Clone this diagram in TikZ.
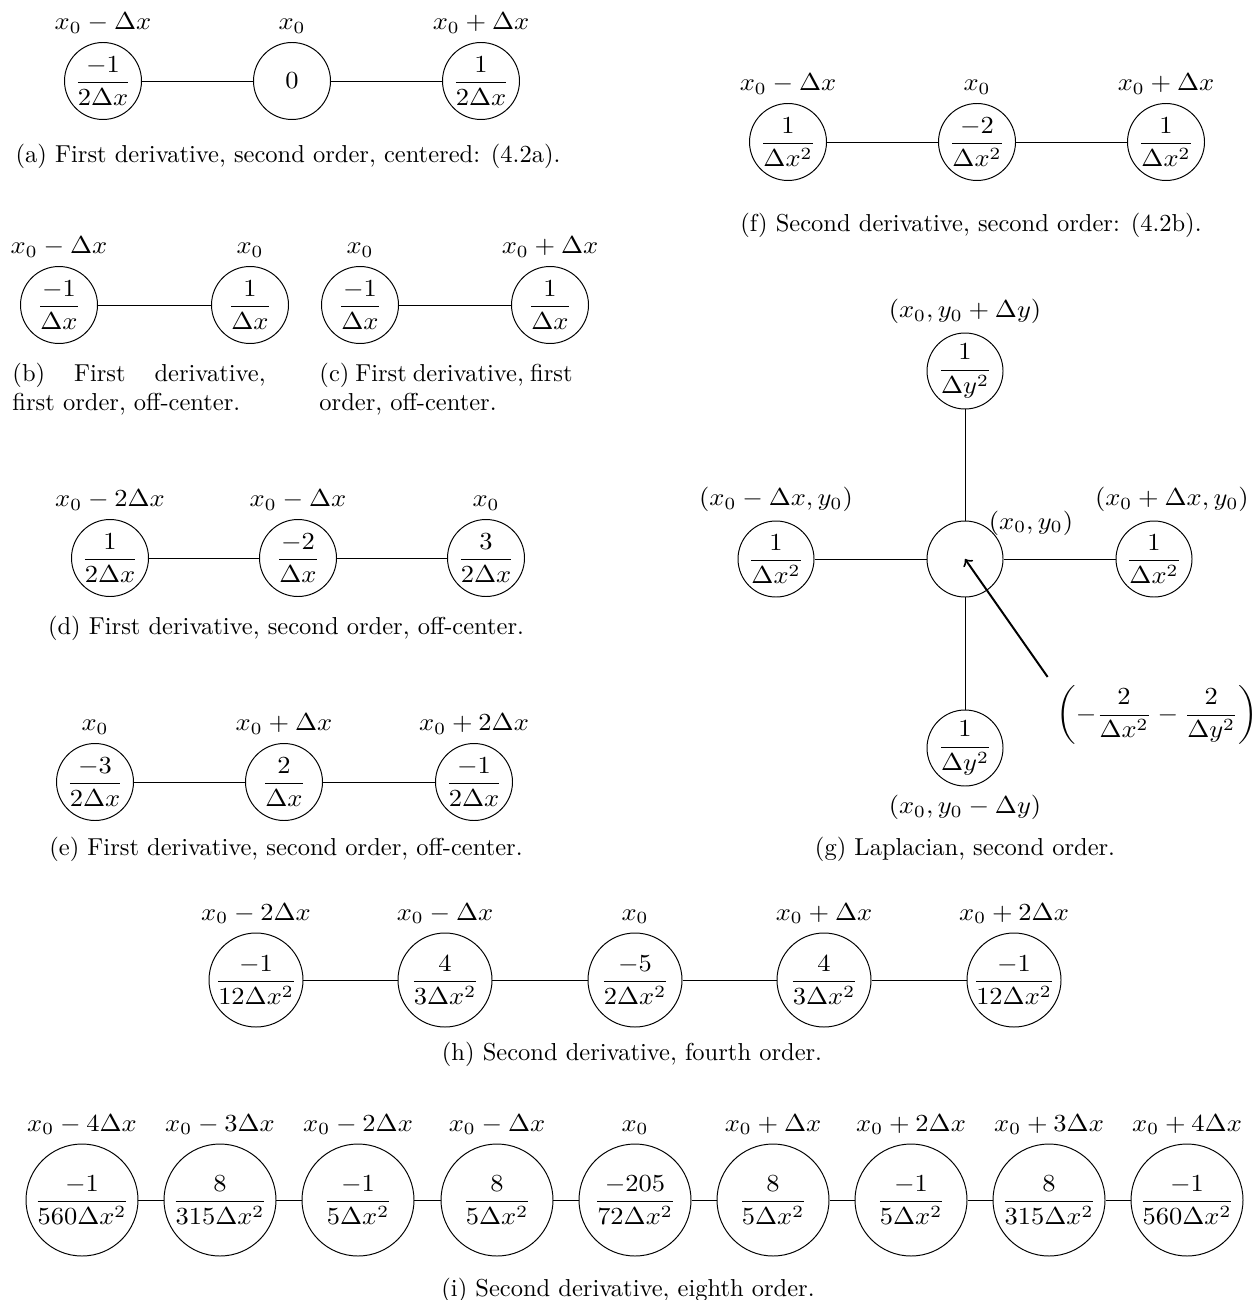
\documentclass[tikz,border=0pt]{standalone}
\usepackage{amsmath}
\usepackage{graphicx}
% one drawing unit = one pixel of the final sheet
\newcommand\pxu{0.40816pt}
% diagram math is set slightly wide
\newcommand\wide[1]{\scalebox{1.08}[1]{#1}}
% coefficient set as a display fraction of zero width
\newcommand\cc[1]{\makebox[0pt]{\wide{$\displaystyle #1$}}}
\newcommand\lab[1]{\wide{$#1$}}
\tikzset{
  cell/.style={circle, draw, inner sep=0pt, minimum size=#1*\pxu},
  captext/.style={inner sep=0pt, anchor=center},
  capline/.style={inner sep=0pt, anchor=base west},
  link/.style={draw},
  pointer/.style={->, thick},
}
\begin{document}
\begin{tikzpicture}[x=\pxu, y=-\pxu]
\useasboundingbox (0,0) rectangle (1257,1300);

% (a) first derivative, second order, centered
\node[cell=77, label=above:{\lab{x_0-\Delta x}}] (a1) at (103,81) {\cc{\frac{-1}{2\Delta x}}};
\node[cell=77, label=above:{\lab{x_0}}] (a2) at (292,81) {\lab{0}};
\node[cell=77, label=above:{\lab{x_0+\Delta x}}] (a3) at (481,81) {\cc{\frac{1}{2\Delta x}}};
\path[link] (a1) -- (a2) (a2) -- (a3);
\node[captext] (capa) at (288,156) {(a) First derivative, second order, centered: (4.2a).};

% (f) second derivative, second order
\node[cell=77, label=above:{\lab{x_0-\Delta x}}] (f1) at (788,142) {\cc{\frac{1}{\Delta x^2}}};
\node[cell=77, label=above:{\lab{x_0}}] (f2) at (977,142) {\cc{\frac{-2}{\Delta x^2}}};
\node[cell=77, label=above:{\lab{x_0+\Delta x}}] (f3) at (1166,142) {\cc{\frac{1}{\Delta x^2}}};
\path[link] (f1) -- (f2) (f2) -- (f3);
\node[captext] (capf) at (971,225) {(f) Second derivative, second order: (4.2b).};

% (b) and (c) first derivative, first order, off-center
\node[cell=77, label=above:{\lab{x_0-\Delta x}}] (b1) at (59,305) {\cc{\frac{-1}{\Delta x}}};
\node[cell=77, label=above:{\lab{x_0}}] (b2) at (250,305) {\cc{\frac{1}{\Delta x}}};
\path[link] (b1) -- (b2);
\node[capline] (capb1) at (12,381) {\makebox[103.3pt][s]{(b) First derivative,}};
\node[capline] (capb2) at (12,410) {first order, off-center.};

\node[cell=77, label=above:{\lab{x_0}}] (c1) at (360,305) {\cc{\frac{-1}{\Delta x}}};
\node[cell=77, label=above:{\lab{x_0+\Delta x}}] (c2) at (550,305) {\cc{\frac{1}{\Delta x}}};
\path[link] (c1) -- (c2);
\node[capline] (capc1) at (319,381) {\makebox[103.3pt][s]{(c) First derivative, first}};
\node[capline] (capc2) at (319,410) {order, off-center.};

% (d) first derivative, second order, off-center (backward)
\node[cell=77, label=above:{\lab{x_0-2\Delta x}}] (d1) at (110,558) {\cc{\frac{1}{2\Delta x}}};
\node[cell=77, label=above:{\lab{x_0-\Delta x}}] (d2) at (298,558) {\cc{\frac{-2}{\Delta x}}};
\node[cell=77, label=above:{\lab{x_0}}] (d3) at (486,558) {\cc{\frac{3}{2\Delta x}}};
\path[link] (d1) -- (d2) (d2) -- (d3);
\node[captext] (capd) at (286,628) {(d) First derivative, second order, off-center.};

% (e) first derivative, second order, off-center (forward)
\node[cell=77, label=above:{\lab{x_0}}] (e1) at (95,782) {\cc{\frac{-3}{2\Delta x}}};
\node[cell=77, label=above:{\lab{x_0+\Delta x}}] (e2) at (284,782) {\cc{\frac{2}{\Delta x}}};
\node[cell=77, label=above:{\lab{x_0+2\Delta x}}] (e3) at (474,782) {\cc{\frac{-1}{2\Delta x}}};
\path[link] (e1) -- (e2) (e2) -- (e3);
\node[captext] (cape) at (286,849) {(e) First derivative, second order, off-center.};

% (g) five-point Laplacian
\node[cell=76] (g0) at (965,559) {};
\node[cell=76, label=above:{\lab{(x_0,y_0+\Delta y)}}] (gt) at (965,371) {\cc{\frac{1}{\Delta y^2}}};
\node[cell=76, label=below:{\lab{(x_0,y_0-\Delta y)}}] (gb) at (965,748) {\cc{\frac{1}{\Delta y^2}}};
\node[cell=76, label=above:{\lab{(x_0-\Delta x,y_0)}}] (gl) at (776,559) {\cc{\frac{1}{\Delta x^2}}};
\node[cell=76, label={[xshift=7.3pt]above:{\lab{(x_0+\Delta x,y_0)}}}] (gr) at (1154,559) {\cc{\frac{1}{\Delta x^2}}};
\path[link] (gl) -- (g0) (g0) -- (gr) (gt) -- (g0) (g0) -- (gb);
\node[captext] (g0lab) at (1031,523) {\lab{(x_0,y_0)}};
\node (gexpr) at (1157,715) {\wide{$\left(-\dfrac{2}{\Delta x^2}-\dfrac{2}{\Delta y^2}\right)$}};
\draw[pointer] (gexpr.north west) -- (g0.center);
\node[captext] (capg) at (965,849) {(g) Laplacian, second order.};

% (h) second derivative, fourth order
\node[cell=94, label=above:{\lab{x_0-2\Delta x}}] (h1) at (256,980) {\cc{\frac{-1}{12\Delta x^2}}};
\node[cell=94, label=above:{\lab{x_0-\Delta x}}] (h2) at (445,980) {\cc{\frac{4}{3\Delta x^2}}};
\node[cell=94, label=above:{\lab{x_0}}] (h3) at (635,980) {\cc{\frac{-5}{2\Delta x^2}}};
\node[cell=94, label=above:{\lab{x_0+\Delta x}}] (h4) at (824,980) {\cc{\frac{4}{3\Delta x^2}}};
\node[cell=94, label=above:{\lab{x_0+2\Delta x}}] (h5) at (1014,980) {\cc{\frac{-1}{12\Delta x^2}}};
\path[link] (h1) -- (h2) (h2) -- (h3) (h3) -- (h4) (h4) -- (h5);
\node[captext] (caph) at (632,1054) {(h) Second derivative, fourth order.};

% (i) second derivative, eighth order
\node[cell=112, label=above:{\lab{x_0-4\Delta x}}] (i1) at (82,1200) {\cc{\frac{-1}{560\Delta x^2}}};
\node[cell=112, label=above:{\lab{x_0-3\Delta x}}] (i2) at (220,1200) {\cc{\frac{8}{315\Delta x^2}}};
\node[cell=112, label=above:{\lab{x_0-2\Delta x}}] (i3) at (358,1200) {\cc{\frac{-1}{5\Delta x^2}}};
\node[cell=112, label=above:{\lab{x_0-\Delta x}}] (i4) at (497,1200) {\cc{\frac{8}{5\Delta x^2}}};
\node[cell=112, label=above:{\lab{x_0}}] (i5) at (635,1200) {\cc{\frac{-205}{72\Delta x^2}}};
\node[cell=112, label=above:{\lab{x_0+\Delta x}}] (i6) at (773,1200) {\cc{\frac{8}{5\Delta x^2}}};
\node[cell=112, label=above:{\lab{x_0+2\Delta x}}] (i7) at (911,1200) {\cc{\frac{-1}{5\Delta x^2}}};
\node[cell=112, label=above:{\lab{x_0+3\Delta x}}] (i8) at (1049,1200) {\cc{\frac{8}{315\Delta x^2}}};
\node[cell=112, label=above:{\lab{x_0+4\Delta x}}] (i9) at (1187,1200) {\cc{\frac{-1}{560\Delta x^2}}};
\path[link] (i1) -- (i2) (i2) -- (i3) (i3) -- (i4) (i4) -- (i5)
            (i5) -- (i6) (i6) -- (i7) (i7) -- (i8) (i8) -- (i9);
\node[captext] (capi) at (628,1290) {(i) Second derivative, eighth order.};
\end{tikzpicture}
\end{document}
